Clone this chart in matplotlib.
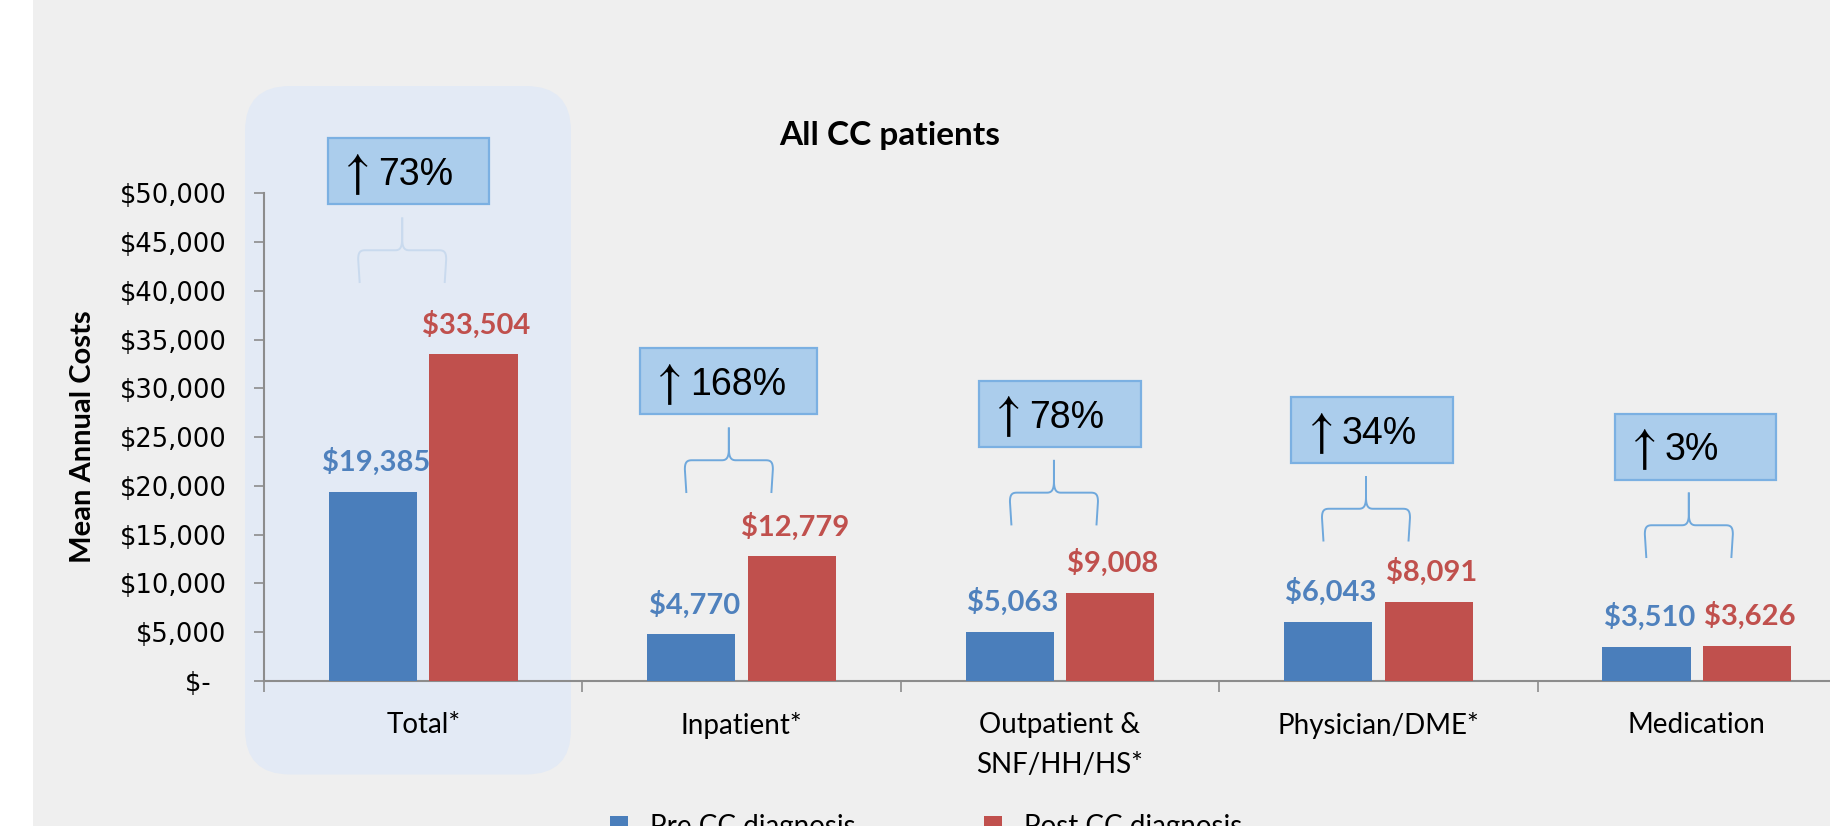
import matplotlib
matplotlib.use("Agg")
import matplotlib.pyplot as plt
from matplotlib.patches import Rectangle, FancyBboxPatch
import numpy as np

# ---------------- data ----------------
categories = ["Total*", "Inpatient*", "Outpatient &\nSNF/HH/HS*", "Physician/DME*", "Medication"]
pre_cc = [19385, 4770, 5063, 6043, 3510]
post_cc = [33504, 12779, 9008, 8091, 3626]
pct_change = ["73%", "168%", "78%", "34%", "3%"]
series_names = ["Pre CC diagnosis", "Post CC diagnosis"]
y_ticks = list(range(0, 50001, 5000))
y_tick_labels = ["$-  "] + [f"${v:,}" for v in y_ticks[1:]]
title = "All CC patients"
y_label = "Mean Annual Costs"

# ---------------- annotation layout (data units) ----------------
box_left = [-0.299, -0.319, -0.254, -0.273, -0.257]     # relative to category centre
box_width = [0.506, 0.556, 0.507, 0.507, 0.507]
box_bottom = [48871, 27337, 23994, 22313, 20631]
brace_dx = [-0.066, -0.040, -0.019, -0.039, -0.025]
brace_base = [40811, 19278, 15955, 14304, 12612]
brace_colors = ["#c9daee", "#6fa8dc", "#6fa8dc", "#6fa8dc", "#6fa8dc"]

BLUE = "#4a7ebb"
RED = "#c0504d"
BLUE_TXT = "#4f81bd"
RED_TXT = "#c0504d"
GRID = "#8c8c8c"

plt.rcParams["font.family"] = ["Lato", "DejaVu Sans"]

W, H = 1831, 826
fig = plt.figure(figsize=(W / 100, H / 100), dpi=100, facecolor="#efefef")
fig.add_artist(Rectangle((0, 0), 33 / W, 1, transform=fig.transFigure,
                         facecolor="white", edgecolor="none", zorder=-5))

ax_left, ax_right, ax_bot, ax_top = 264, 1856, 681, 193.4
ax = fig.add_axes([ax_left / W, (H - ax_bot) / H, (ax_right - ax_left) / W, (ax_bot - ax_top) / H])
ax.set_facecolor("none")
ax.set_xlim(-0.5, 4.5)
ax.set_ylim(0, 50000)

PX_X = 5.0 / (ax_right - ax_left)     # data units per pixel (x)
PX_Y = 50000.0 / (ax_bot - ax_top)    # data units per pixel (y)

x = np.arange(len(categories))
bw = 0.2765
off = 0.158
b1 = ax.bar(x - off, pre_cc, width=bw, color=BLUE, zorder=3, label=series_names[0])
b2 = ax.bar(x + off, post_cc, width=bw, color=RED, zorder=3, label=series_names[1])

for xi, v in zip(x - off, pre_cc):
    ax.annotate(f"${v:,}", (xi, v), xytext=(2, 15), textcoords="offset points",
                ha="center", va="baseline", fontsize=21, fontweight="bold",
                color=BLUE_TXT, zorder=5)
for xi, v in zip(x + off, post_cc):
    ax.annotate(f"${v:,}", (xi, v), xytext=(2, 15), textcoords="offset points",
                ha="center", va="baseline", fontsize=21, fontweight="bold",
                color=RED_TXT, zorder=5)

# highlight for Total
hx0 = -0.5 - 19 * PX_X
hx1 = -0.5 + 307 * PX_X
hy0 = -(774.5 - ax_bot) * PX_Y
hy1 = (ax_bot - 86) * PX_Y
hl = FancyBboxPatch((hx0, hy0), hx1 - hx0, hy1 - hy0,
                    boxstyle=f"round,pad=0,rounding_size={45 * PX_X}",
                    mutation_aspect=PX_Y / PX_X, facecolor="#e3eaf5",
                    edgecolor="none", clip_on=False, zorder=0.5)
ax.add_patch(hl)

# percentage boxes
for i, txt in enumerate(pct_change):
    bx = i + box_left[i]
    rect = Rectangle((bx, box_bottom[i]), box_width[i], 66 * PX_Y,
                     facecolor="#abcdec", edgecolor="#7bb0e2", lw=1.6,
                     clip_on=False, zorder=4)
    ax.add_patch(rect)
    ax.text(bx + 25 * PX_X, box_bottom[i] + 17.5 * PX_Y, r"$\uparrow$", fontsize=36,
            math_fontfamily="stix", ha="center", va="baseline",
            color="black", zorder=5, clip_on=False)
    ax.text(bx + 50 * PX_X, box_bottom[i] + 19.5 * PX_Y, txt, fontsize=27,
            family=["Liberation Sans", "DejaVu Sans"], ha="left", va="baseline",
            color="black", zorder=5, clip_on=False)

# braces
def draw_brace(cx, y0, color):
    w = 88 * PX_X / 2
    h = 65.5 * PX_Y
    hm = y0 + h / 2
    r = 7
    t = np.linspace(0, 1, 20)
    for s in (-1, 1):
        xs, ys = [], []
        xs += [cx, cx]
        ys += [y0 + h, hm + 12 * PX_Y]
        p0 = np.array([0, 12.0]); p1 = np.array([0, 3.0]); p2 = np.array([s * 2.0, 0]); p3 = np.array([s * 7.0, 0])
        bez = ((1 - t)[:, None] ** 3 * p0 + 3 * ((1 - t) ** 2 * t)[:, None] * p1
               + 3 * ((1 - t) * t ** 2)[:, None] * p2 + (t ** 3)[:, None] * p3)
        xs += list(cx + bez[:, 0] * PX_X)
        ys += list(hm + bez[:, 1] * PX_Y)
        xe = cx + s * w
        xs += [xe - s * r * PX_X]
        ys += [hm]
        q0 = np.array([-s * r, 0.0]); q1 = np.array([-s * 2.0, 0]); q2 = np.array([0, -2.0]); q3 = np.array([0, -r * 1.3])
        bez = ((1 - t)[:, None] ** 3 * q0 + 3 * ((1 - t) ** 2 * t)[:, None] * q1
               + 3 * ((1 - t) * t ** 2)[:, None] * q2 + (t ** 3)[:, None] * q3)
        xs += list(xe + bez[:, 0] * PX_X)
        ys += list(hm + bez[:, 1] * PX_Y)
        xs += [xe - s * 1.5 * PX_X]
        ys += [y0]
        ax.plot(xs, ys, color=color, lw=1.4, clip_on=False, zorder=4,
                solid_capstyle="butt")

for i in range(len(categories)):
    draw_brace(i + brace_dx[i], brace_base[i], brace_colors[i])

# axes styling
for sp in ("top", "right"):
    ax.spines[sp].set_visible(False)
for sp in ("left", "bottom"):
    ax.spines[sp].set_color(GRID)
    ax.spines[sp].set_linewidth(1.5)

ax.set_yticks(y_ticks)
ax.set_yticklabels(y_tick_labels, family=["DejaVu Sans"], fontsize=18.5)
ax.tick_params(axis="y", length=7, width=1.2, color=GRID, pad=20, labelcolor="black")
ax.set_xticks(x)
ax.set_xticklabels(categories, fontsize=20, linespacing=1.7)
ax.tick_params(axis="x", which="major", length=0, pad=22, labelcolor="black")
ax.set_xticks(np.arange(-0.5, len(categories) + 0.5, 1), minor=True)
ax.tick_params(axis="x", which="minor", length=8, width=1.2, color=GRID)

ax.text((83 - ax_left) / (ax_right - ax_left), (ax_bot - 437) / (ax_bot - ax_top),
        y_label, transform=ax.transAxes, rotation=90, ha="center", va="center",
        fontsize=21, fontweight="bold")

fig.text(890 / W, 1 - 145 / H, title, ha="center", va="baseline",
         fontsize=24, fontweight="bold")

# legend
def make_leg(colsp):
    return fig.legend([b1, b2], series_names, loc="center left",
                      bbox_to_anchor=(610 / W, (H - 827) / H), ncol=2, frameon=False,
                      handlelength=0.65, handleheight=0.65, handletextpad=0.79,
                      columnspacing=colsp, borderaxespad=0, borderpad=0, fontsize=20)

leg = make_leg(3.9)
fig.canvas.draw()
r = fig.canvas.get_renderer()
tw = leg.get_texts()[0].get_window_extent(r).width
leg.remove()
fs_px = 20 * 100 / 72
leg = make_leg(max(0.5, (984 - (650 + tw)) / fs_px))

fig.savefig("out.png", dpi=100, facecolor=fig.get_facecolor())
